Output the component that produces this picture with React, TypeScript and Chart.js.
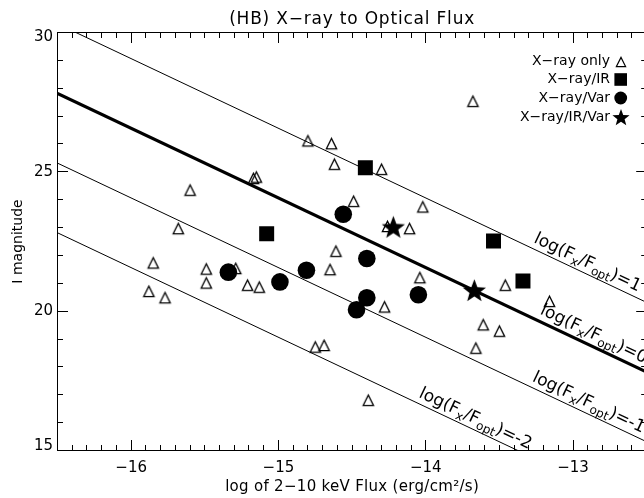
import React, { useEffect, useRef } from 'react';
import { Chart, registerables } from 'chart.js';

Chart.register(...registerables);

// ---------- data ----------
const xrayOnlyFlux = [-15.17, -15.15, -15.6, -15.68, -14.8, -14.64, -14.62, -14.3, -14.49, -14.02, -14.26, -14.11, -13.68, -15.85, -15.88, -15.77, -15.49, -15.49, -15.29, -15.21, -15.13, -14.61, -14.65, -14.04, -14.28, -14.75, -14.69, -14.39, -13.46, -13.16, -13.61, -13.5, -13.66];
const xrayOnlyMag = [24.76, 24.81, 24.34, 22.96, 26.11, 26.01, 25.27, 25.09, 23.94, 23.74, 23.04, 22.96, 27.53, 21.73, 20.71, 20.48, 21.51, 21.01, 21.53, 20.93, 20.86, 22.15, 21.49, 21.2, 20.15, 18.71, 18.77, 16.8, 20.93, 20.35, 19.51, 19.28, 18.67];

const xrayIRFlux = [-15.08, -14.41, -13.54, -13.34];
const xrayIRMag = [22.78, 25.15, 22.52, 21.08];

const xrayVarFlux = [-14.56, -15.34, -14.99, -14.81, -14.4, -14.4, -14.47, -14.05];
const xrayVarMag = [23.48, 21.4, 21.05, 21.47, 21.89, 20.48, 20.05, 20.59];

const xrayIRVarFlux = [-14.22, -13.67];
const xrayIRVarMag = [22.98, 20.71];

// log(Fx/Fopt) = log Fx + I/2.5 + RATIO_CONST
const ratioLevels = [1, 0, -1, -2];
const ratioLabelStart = [-13.29, -13.25, -13.3, -14.07];
const RATIO_CONST = 5.375;

const X_MIN = -16.5;
const X_MAX = -12.5;
const Y_MIN = 15;
const Y_MAX = 30;
const xTickValues = [-16, -15, -14, -13];
const xTickLabels = ['\u221216', '\u221215', '\u221214', '\u221213'];
const yTickValues = [15, 20, 25, 30];
const yTickLabels = ['15', '20', '25', '30'];

const legendLabels = ['X\u2212ray only', 'X\u2212ray/IR', 'X\u2212ray/Var', 'X\u2212ray/IR/Var'];
const titleText = '(HB) X\u2212ray to Optical Flux';
const xTitle = 'log of 2\u221210 keV Flux (erg/cm\u00b2/s)';
const yTitle = 'I magnitude';

// ---------- layout ----------
const W = 660;
const H = 498;
const AREA = { left: 57.5, top: 32.5, right: 646.7, bottom: 450.5 };
const FF = '"DejaVu Sans", sans-serif';

const magOnLine = (k: number, flux: number) => 2.5 * (k - flux - RATIO_CONST);

function makeTriangle(half: number, lw: number) {
  const size = Math.ceil(half * 2 + lw * 2 + 2);
  const c = document.createElement('canvas');
  c.width = size;
  c.height = size;
  const g = c.getContext('2d')!;
  const cx = size / 2;
  const cy = size / 2;
  g.strokeStyle = '#000';
  g.lineWidth = lw;
  g.lineJoin = 'miter';
  g.beginPath();
  g.moveTo(cx - half, cy + half);
  g.lineTo(cx, cy - half);
  g.lineTo(cx + half, cy + half);
  g.closePath();
  g.stroke();
  return c;
}

function makeStar(R: number, ratio: number) {
  const size = Math.ceil(R * 2 + 2);
  const c = document.createElement('canvas');
  c.width = size;
  c.height = size;
  const g = c.getContext('2d')!;
  const cx = size / 2;
  const cy = size / 2;
  g.fillStyle = '#000';
  g.beginPath();
  for (let i = 0; i < 10; i++) {
    const r = i % 2 === 0 ? R : R * ratio;
    const a = -Math.PI / 2 + (i * Math.PI) / 5;
    const px = cx + r * Math.cos(a);
    const py = cy + r * Math.sin(a);
    if (i === 0) g.moveTo(px, py);
    else g.lineTo(px, py);
  }
  g.closePath();
  g.fill();
  return c;
}

function toPoints(xs: number[], ys: number[]) {
  return xs.map((x, i) => ({ x, y: ys[i] }));
}

export default function App() {
  const ref = useRef<HTMLCanvasElement | null>(null);

  useEffect(() => {
    const canvas = ref.current;
    if (!canvas) return;

    const triImg = makeTriangle(5.2, 1.3);
    const starImg = makeStar(12.2, 0.42);
    const triLegend = makeTriangle(4.6, 1.2);
    const starLegend = makeStar(9, 0.42);

    const lineDatasets = ratioLevels.map((k, i) => ({
      type: 'line' as const,
      label: 'ratio ' + k,
      data: [
        { x: X_MIN, y: magOnLine(k, X_MIN) },
        { x: X_MAX, y: magOnLine(k, X_MAX) },
      ],
      borderColor: '#000',
      borderWidth: k === 0 ? 3 : 1,
      pointRadius: 0,
      showLine: true,
      fill: false,
      tension: 0,
      order: 10 + i,
    }));

    const framePlugin = {
      id: 'idlFrame',
      afterDraw(chart: any) {
        const { ctx, chartArea: a } = chart;
        const xs = chart.scales.x;
        const ys = chart.scales.y;
        ctx.save();
        ctx.strokeStyle = '#000';
        ctx.lineWidth = 1;
        ctx.strokeRect(a.left, a.top, a.right - a.left, a.bottom - a.top);
        ctx.beginPath();
        for (let i = 0; i <= 40; i++) {
          const v = X_MIN + i / 10;
          const major = i % 10 === 5;
          const len = major ? 10.5 : 5.5;
          const px = Math.floor(xs.getPixelForValue(v)) + 0.5;
          ctx.moveTo(px, a.bottom);
          ctx.lineTo(px, a.bottom - len);
          ctx.moveTo(px, a.top);
          ctx.lineTo(px, a.top + len);
        }
        for (let v = Y_MIN; v <= Y_MAX; v++) {
          const major = v % 5 === 0;
          const len = major ? 10.5 : 5.5;
          const py = Math.floor(ys.getPixelForValue(v)) + 0.5;
          ctx.moveTo(a.left, py);
          ctx.lineTo(a.left + len, py);
          ctx.moveTo(a.right, py);
          ctx.lineTo(a.right - len, py);
        }
        ctx.stroke();

        ctx.fillStyle = '#000';
        // x tick labels
        ctx.font = `15px ${FF}`;
        ctx.textAlign = 'center';
        ctx.textBaseline = 'middle';
        xTickValues.forEach((v, i) => {
          ctx.fillText(xTickLabels[i], xs.getPixelForValue(v), a.bottom + 18);
        });
        // y tick labels
        ctx.textAlign = 'right';
        yTickValues.forEach((v, i) => {
          let py = ys.getPixelForValue(v);
          py = Math.min(Math.max(py, a.top + 5), a.bottom - 4);
          ctx.fillText(yTickLabels[i], 53, py);
        });

        // title
        (ctx as any).letterSpacing = '0.8px';
        ctx.font = `17px ${FF}`;
        ctx.textAlign = 'center';
        ctx.fillText(titleText, (a.left + a.right) / 2, 20);
        (ctx as any).letterSpacing = '0.3px';
        ctx.font = `15px ${FF}`;
        ctx.fillText(xTitle, (a.left + a.right) / 2, 487);
        (ctx as any).letterSpacing = '0px';
        ctx.save();
        ctx.translate(18, (a.top + a.bottom) / 2);
        ctx.rotate(-Math.PI / 2);
        ctx.font = `14px ${FF}`;
        ctx.fillText(yTitle, 0, 0);
        ctx.restore();

        // ratio line labels
        ratioLevels.forEach((k, i) => {
          const f0 = ratioLabelStart[i];
          const x0 = xs.getPixelForValue(f0);
          const y0 = ys.getPixelForValue(magOnLine(k, f0));
          const x1 = xs.getPixelForValue(f0 + 1);
          const y1 = ys.getPixelForValue(magOnLine(k, f0 + 1));
          const ang = Math.atan2(y1 - y0, x1 - x0);
          ctx.save();
          ctx.translate(x0, y0);
          ctx.rotate(ang);
          ctx.textAlign = 'left';
          ctx.textBaseline = 'alphabetic';
          const base = k === 0 ? -7 : -6;
          const parts: [string, boolean][] = [
            ['log(F', false],
            ['x', true],
            ['/F', false],
            ['opt', true],
            [')=' + String(k), false],
          ];
          let cx = 0;
          parts.forEach(([t, sub]) => {
            ctx.font = sub ? `12px ${FF}` : `17px ${FF}`;
            ctx.fillText(t, cx, base + (sub ? 4 : 0));
            cx += ctx.measureText(t).width;
          });
          ctx.restore();
        });

        // legend
        const rows = [61.5, 79.5, 98, 117];
        ctx.font = `14px ${FF}`;
        ctx.textAlign = 'right';
        ctx.textBaseline = 'middle';
        legendLabels.forEach((t, i) => {
          ctx.fillText(t, 610, rows[i]);
        });
        const mx = 620.7;
        ctx.drawImage(triLegend, Math.round(mx - triLegend.width / 2), Math.round(rows[0] - triLegend.height / 2));
        ctx.fillRect(mx - 6.3, rows[1] - 6.3, 12.6, 12.6);
        ctx.beginPath();
        ctx.arc(mx, rows[2], 6.4, 0, Math.PI * 2);
        ctx.fill();
        ctx.drawImage(starLegend, Math.round(mx - starLegend.width / 2), Math.round(rows[3] - starLegend.height / 2 + 1));
        ctx.restore();
      },
    };

    const chart = new Chart(canvas, {
      type: 'scatter',
      data: {
        datasets: [
          {
            label: legendLabels[3],
            data: toPoints(xrayIRVarFlux, xrayIRVarMag),
            pointStyle: starImg as any,
            pointRadius: 12,
            order: 0,
          },
          {
            label: legendLabels[2],
            data: toPoints(xrayVarFlux, xrayVarMag),
            pointStyle: 'circle',
            pointRadius: 8.8,
            pointBackgroundColor: '#000',
            pointBorderWidth: 0,
            order: 1,
          },
          {
            label: legendLabels[1],
            data: toPoints(xrayIRFlux, xrayIRMag),
            pointStyle: 'rect',
            pointRadius: 10.6,
            pointBackgroundColor: '#000',
            pointBorderWidth: 0,
            order: 2,
          },
          {
            label: legendLabels[0],
            data: toPoints(xrayOnlyFlux, xrayOnlyMag),
            pointStyle: triImg as any,
            pointRadius: 6,
            order: 3,
          },
          ...(lineDatasets as any[]),
        ],
      },
      options: {
        responsive: false,
        animation: false,
        devicePixelRatio: 1,
        events: [],
        layout: {
          padding: {
            left: AREA.left,
            top: AREA.top,
            right: W - AREA.right,
            bottom: H - AREA.bottom,
          },
        },
        plugins: {
          legend: { display: false },
          title: { display: false },
          tooltip: { enabled: false },
        },
        scales: {
          x: { type: 'linear', min: X_MIN, max: X_MAX, display: false },
          y: { type: 'linear', min: Y_MIN, max: Y_MAX, display: false },
        },
      },
      plugins: [framePlugin],
    });

    return () => chart.destroy();
  }, []);

  return (
    <div
      style={{
        position: 'fixed',
        left: 0,
        top: 0,
        width: 644,
        height: 498,
        overflow: 'hidden',
        background: '#fff',
      }}
    >
      <canvas ref={ref} width={W} height={H} style={{ display: 'block', width: W, height: H }} />
    </div>
  );
}
